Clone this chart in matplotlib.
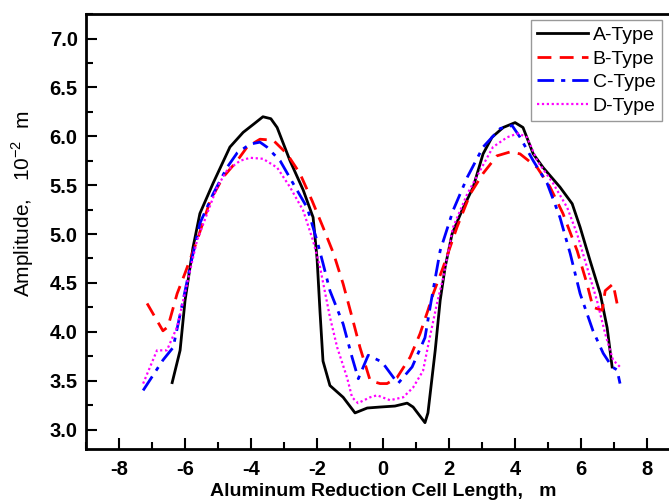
import matplotlib.pyplot as plt
from matplotlib.ticker import MultipleLocator

plt.rcParams['font.family'] = ['Liberation Sans', 'DejaVu Sans']
plt.rcParams['mathtext.fontset'] = 'custom'
plt.rcParams['mathtext.rm'] = 'Liberation Sans'
plt.rcParams['axes.unicode_minus'] = False

# A-Type (solid black)
a_x = [-6.39, -6.15, -6.0, -5.76, -5.55, -5.15, -4.64, -4.24, -3.9, -3.64, -3.4, -3.21,
       -2.82, -2.42, -2.12, -2.0, -1.91, -1.82, -1.61, -1.21, -0.85, -0.48, -0.09, 0.36,
       0.73, 0.91, 1.27, 1.36, 1.58, 1.73, 1.88, 2.09, 2.39, 2.73, 3.03, 3.30, 3.64,
       4.0, 4.24, 4.55, 4.85, 5.36, 5.73, 5.97, 6.27, 6.58, 6.79, 6.94]
a_y = [3.48, 3.81, 4.32, 4.86, 5.21, 5.52, 5.89, 6.04, 6.13, 6.20, 6.18, 6.09,
       5.75, 5.45, 5.17, 4.75, 4.20, 3.70, 3.45, 3.33, 3.17, 3.22, 3.23, 3.24,
       3.27, 3.23, 3.07, 3.17, 3.81, 4.32, 4.66, 5.0, 5.24, 5.48, 5.82, 5.99, 6.09,
       6.14, 6.09, 5.82, 5.68, 5.48, 5.31, 5.07, 4.73, 4.39, 4.04, 3.64]

# B-Type (dashed red)
b_x = [-7.15, -6.67, -6.52, -6.24, -6.0, -5.64, -5.24, -4.85, -4.42, -4.12, -3.73, -3.33,
       -2.91, -2.52, -2.15, -1.82, -1.5, -1.21, -0.94, -0.70, -0.39, -0.09, 0.12, 0.42,
       0.82, 1.12, 1.36, 1.52, 1.82, 2.24, 2.64, 3.03, 3.45, 3.85, 4.15, 4.67, 5.06,
       5.45, 5.88, 6.18, 6.36, 6.64, 6.73, 6.97, 7.09]
b_y = [4.29, 4.01, 4.05, 4.39, 4.6, 4.93, 5.34, 5.58, 5.75, 5.89, 5.97, 5.96,
       5.82, 5.62, 5.34, 5.07, 4.80, 4.49, 4.15, 3.84, 3.50, 3.47, 3.47, 3.53,
       3.74, 3.98, 4.22, 4.39, 4.66, 5.07, 5.41, 5.62, 5.80, 5.84, 5.82, 5.68, 5.48,
       5.21, 4.83, 4.49, 4.25, 4.22, 4.42, 4.49, 4.29]

# C-Type (dash-dot blue)
c_x = [-7.27, -6.67, -6.36, -6.06, -5.85, -5.55, -5.15, -4.73, -4.42, -4.03, -3.73, -3.52,
       -3.12, -2.73, -2.30, -2.0, -1.82, -1.61, -1.21, -0.94, -0.75, -0.45, -0.03, 0.45,
       0.88, 1.27, 1.45, 1.73, 2.12, 2.55, 3.03, 3.55, 3.91, 4.15, 4.55, 4.97, 5.36,
       5.67, 5.97, 6.36, 6.67, 6.94, 7.09, 7.18]
c_y = [3.40, 3.71, 3.84, 4.32, 4.66, 5.11, 5.41, 5.68, 5.83, 5.92, 5.94, 5.89,
       5.75, 5.52, 5.27, 4.93, 4.70, 4.42, 4.08, 3.74, 3.52, 3.76, 3.69, 3.47,
       3.64, 3.94, 4.30, 4.83, 5.24, 5.58, 5.89, 6.08, 6.11, 5.99, 5.75, 5.52, 5.17,
       4.80, 4.39, 4.01, 3.78, 3.64, 3.61, 3.47]

# D-Type (dotted magenta)
d_x = [-7.27, -6.85, -6.55, -6.24, -5.94, -5.64, -5.33, -5.03, -4.73, -4.33, -4.03, -3.64,
       -3.21, -2.82, -2.42, -2.12, -1.91, -1.61, -1.39, -1.09, -0.94, -0.76, -0.39, -0.18,
       0.21, 0.61, 0.91, 1.21, 1.42, 1.64, 1.82, 2.12, 2.55, 2.94, 3.33, 3.76, 4.09,
       4.36, 4.67, 5.15, 5.58, 5.88, 6.18, 6.48, 6.73, 6.97, 7.18]
d_y = [3.47, 3.81, 3.81, 4.05, 4.49, 4.93, 5.21, 5.48, 5.65, 5.75, 5.78, 5.77,
       5.68, 5.48, 5.24, 4.93, 4.66, 4.15, 3.84, 3.53, 3.33, 3.27, 3.33, 3.35,
       3.30, 3.33, 3.43, 3.60, 3.95, 4.30, 4.55, 5.07, 5.41, 5.65, 5.89, 5.99, 6.03,
       5.99, 5.75, 5.52, 5.27, 5.0, 4.66, 4.32, 3.98, 3.71, 3.64]

y_ticks = [3.0, 3.5, 4.0, 4.5, 5.0, 5.5, 6.0, 6.5, 7.0]

fig = plt.figure(figsize=(6.69, 5.04), dpi=100)
ax = fig.add_axes([0.1286, 0.109, 0.888, 0.863])

ax.plot(a_x, a_y, color='black', lw=2.0, label='A-Type')
ax.plot(b_x, b_y, color='red', lw=2.0, linestyle=(0, (5, 3)), label='B-Type')
ax.plot(c_x, c_y, color='blue', lw=2.0, linestyle=(0, (6, 2.5, 1.5, 2.5)), label='C-Type')
ax.plot(d_x, d_y, color='magenta', lw=1.6, linestyle=(0, (1, 1.2)), label='D-Type')

ax.set_xlim(-9, 9)
ax.xaxis.set_major_locator(MultipleLocator(2))
ax.xaxis.set_minor_locator(MultipleLocator(1))
ax.set_yticks(y_ticks)
ax.set_yticklabels(['%.1f' % v for v in y_ticks])
ax.yaxis.set_minor_locator(MultipleLocator(0.25))
ax.set_ylim(2.8, 7.25)
ax.tick_params(which='both', direction='in', width=1.5, labelsize=14.5)
ax.tick_params(which='major', length=8)
ax.tick_params(which='minor', length=5)
ax.tick_params(axis='x', pad=8)
ax.tick_params(axis='y', pad=6)
for lab in ax.get_xticklabels() + ax.get_yticklabels():
    lab.set_fontweight('bold')
for s in ax.spines.values():
    s.set_linewidth(2)

ax.set_xlabel('Aluminum Reduction Cell Length,   m', fontsize=14, fontweight='bold', labelpad=3)
ax.set_ylabel('Amplitude,   10$^{-2}$  m', fontsize=15)
ax.yaxis.set_label_coords(-0.085, 0.565)

leg = ax.legend(loc='upper left', bbox_to_anchor=(0.749, 0.986), borderaxespad=0,
                fontsize=14, handlelength=2.6, handletextpad=0.25, labelspacing=0.3,
                borderpad=0.33, fancybox=False, frameon=True)
leg.get_frame().set_edgecolor('gray')
leg.get_frame().set_linewidth(1)

fig.savefig('out.png', dpi=100)
